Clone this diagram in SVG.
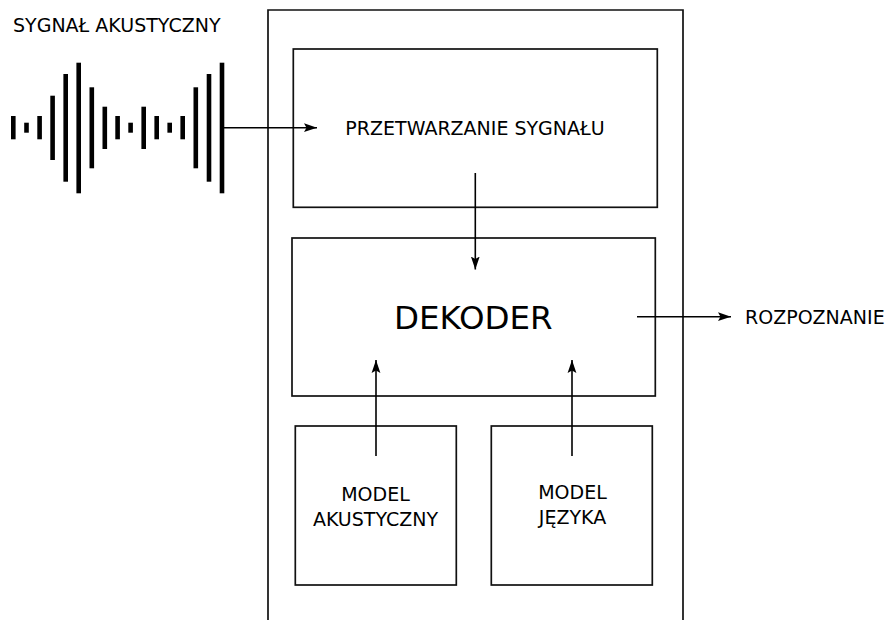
<svg xmlns="http://www.w3.org/2000/svg" width="885" height="620" viewBox="0 0 885 620">
<style>
.box{fill:none;stroke:#111;stroke-width:1.7}
.wire{fill:none;stroke:#000;stroke-width:1.6}
.bar{fill:#000}
text{font-family:"DejaVu Sans","Liberation Sans",sans-serif;fill:#000;font-size:19px}
.mid{text-anchor:middle}
</style>
<defs>
<marker id="arr" markerUnits="userSpaceOnUse" markerWidth="14" markerHeight="10" viewBox="0 0 14 10" refX="13" refY="5" orient="auto">
<path d="M0,0.6 L13,5 L0,9.4 L2.5,5 z" fill="#000"/>
</marker>
</defs>
<rect width="885" height="620" fill="#fff"/>

<g id="signal">
<text x="13" y="31.5">SYGNAŁ AKUSTYCZNY</text>
<g class="bar">
<rect x="11" y="116" width="4.6" height="23.3"/>
<rect x="24.2" y="122.7" width="4.6" height="10"/>
<rect x="37.3" y="116" width="4.6" height="23.3"/>
<rect x="50.3" y="95.7" width="4.6" height="64.3"/>
<rect x="63.4" y="74" width="4.6" height="107.7"/>
<rect x="76.4" y="62.7" width="4.6" height="130.6"/>
<rect x="89.5" y="87.3" width="4.6" height="81"/>
<rect x="102.5" y="106.7" width="4.6" height="42.3"/>
<rect x="115.3" y="116" width="4.6" height="23.3"/>
<rect x="128.3" y="122.7" width="4.6" height="10"/>
<rect x="141.4" y="106.7" width="4.6" height="42.3"/>
<rect x="154.4" y="116" width="4.6" height="23.3"/>
<rect x="167.4" y="122.7" width="4.6" height="10"/>
<rect x="180.4" y="116" width="4.6" height="23.3"/>
<rect x="193.5" y="87.3" width="4.6" height="81"/>
<rect x="206.7" y="74" width="4.6" height="107.7"/>
<rect x="219.7" y="62.7" width="4.6" height="130.6"/>
</g>
</g>

<g id="system">
<path class="box" d="M268,622 V10 H683 V622"/>
</g>

<g id="przetwarzanie">
<rect class="box" x="293.3" y="49" width="364" height="158.3"/>
<text class="mid" x="475" y="135">PRZETWARZANIE SYGNAŁU</text>
</g>

<g id="dekoder">
<rect class="box" x="292" y="238" width="363.3" height="158"/>
<text class="mid" x="473.3" y="329" style="font-size:32.5px">DEKODER</text>
</g>

<g id="model-akustyczny">
<rect class="box" x="295.3" y="426" width="161" height="159"/>
<text class="mid" x="375.5" y="500.5">MODEL</text>
<text class="mid" x="375.5" y="526">AKUSTYCZNY</text>
</g>

<g id="model-jezyka">
<rect class="box" x="491.3" y="426" width="161" height="159"/>
<text class="mid" x="572.5" y="499">MODEL</text>
<text class="mid" x="572.5" y="524">JĘZYKA</text>
</g>

<g id="rozpoznanie">
<text x="745" y="324">ROZPOZNANIE</text>
</g>

<g id="connectors">
<line class="wire" x1="224" y1="127.7" x2="317" y2="127.7" marker-end="url(#arr)"/>
<line class="wire" x1="475.3" y1="173" x2="475.3" y2="269.5" marker-end="url(#arr)"/>
<line class="wire" x1="376" y1="456" x2="376" y2="360" marker-end="url(#arr)"/>
<line class="wire" x1="572" y1="456" x2="572" y2="360" marker-end="url(#arr)"/>
<line class="wire" x1="637" y1="316.7" x2="731" y2="316.7" marker-end="url(#arr)"/>
</g>
</svg>
